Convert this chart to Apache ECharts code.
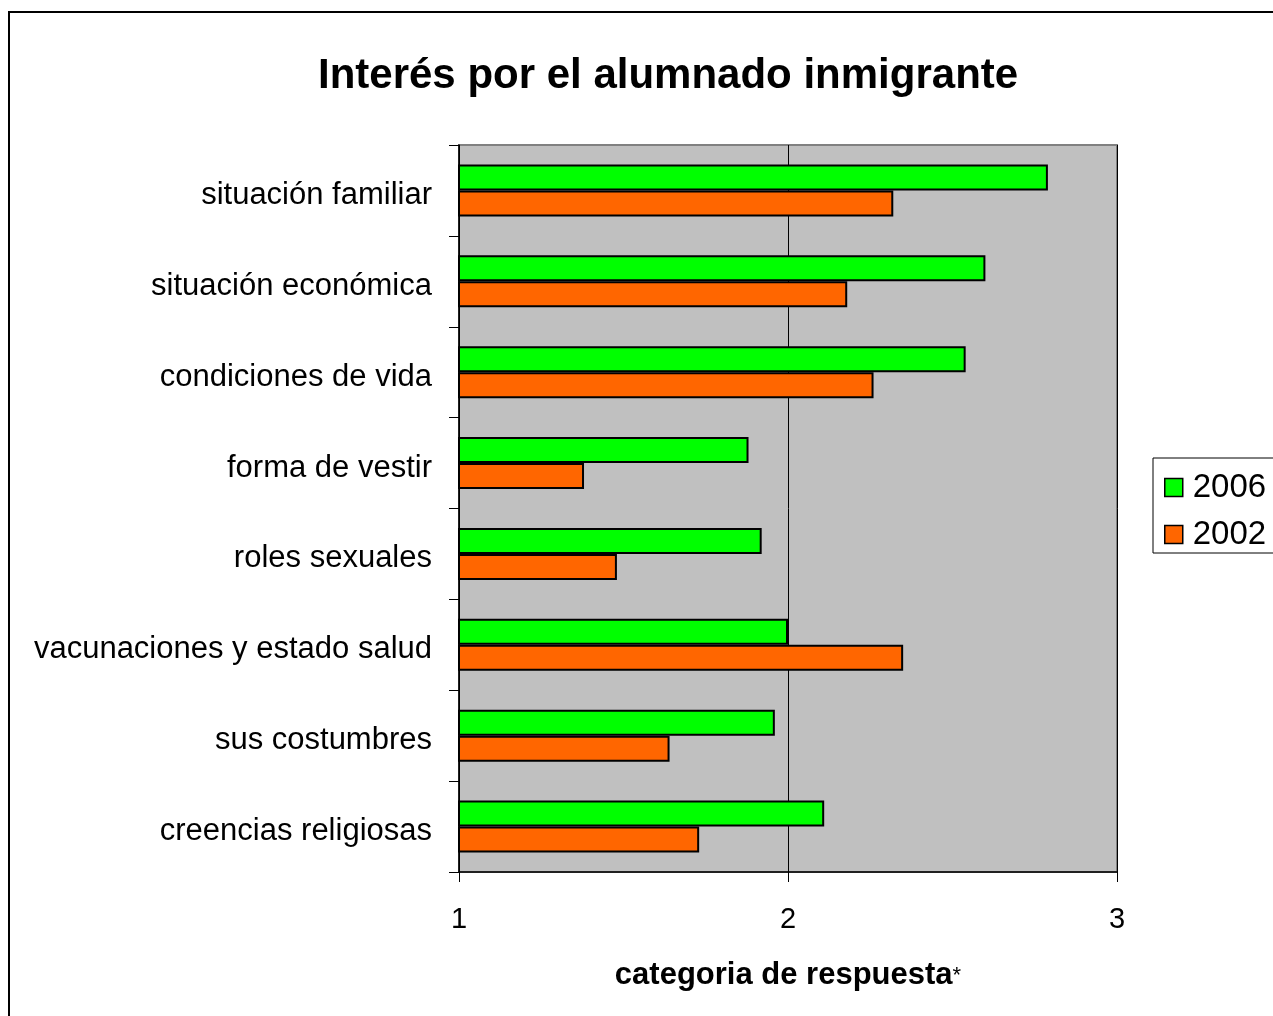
<!DOCTYPE html>
<html>
<head>
<meta charset="utf-8">
<script src="https://cdn.jsdelivr.net/npm/echarts@6/dist/echarts.min.js"></script>
<style>html,body{margin:0;padding:0;background:#fff;}#c{width:1273px;height:1016px;}</style>
</head>
<body>
<div id="c"></div>
<script>
const categories = ['situación familiar','situación económica','condiciones de vida','forma de vestir','roles sexuales','vacunaciones y estado salud','sus costumbres','creencias religiosas'];
const values2006 = [2.79, 2.60, 2.54, 1.88, 1.92, 2.00, 1.96, 2.11];
const values2002 = [2.32, 2.18, 2.26, 1.38, 1.48, 2.35, 1.64, 1.73];
const xTicks = [1, 2, 3];

const chart = echarts.init(document.getElementById('c'));
const font = 'Liberation Sans, Arial, sans-serif';
chart.setOption({
  animation: false,
  backgroundColor: '#fff',
  textStyle: { fontFamily: font },
  title: {
    text: 'Interés por el alumnado inmigrante',
    left: 313, top: 50,
    textStyle: { fontFamily: font, fontSize: 42, fontWeight: 'bold', color: '#000' }
  },
  graphic: [{
    type: 'rect', shape: { x: 9, y: 12, width: 1400, height: 1200 },
    style: { fill: 'none', stroke: '#000', lineWidth: 2 }, z: 100
  }],
  legend: {
    orient: 'vertical', left: 1153, top: 458,
    borderColor: '#000', borderWidth: 1,
    padding: [13, 20, 2, 11],
    itemWidth: 18, itemHeight: 18, itemGap: 14,
    textStyle: { fontFamily: font, fontSize: 33, color: '#000', padding: [0, 0, 0, 5] },
    data: [
      { name: '2006', icon: 'rect', itemStyle: { color: '#00ff00', borderColor: '#000', borderWidth: 1.5 } },
      { name: '2002', icon: 'rect', itemStyle: { color: '#ff6600', borderColor: '#000', borderWidth: 1.5 } }
    ]
  },
  grid: {
    left: 459, right: 156, top: 145, bottom: 144,
    show: true, backgroundColor: '#c0c0c0', borderColor: '#808080', borderWidth: 2
  },
  xAxis: {
    type: 'value', min: xTicks[0], max: xTicks[xTicks.length - 1], interval: 1,
    axisLine: { show: true, lineStyle: { color: '#000', width: 1.5 } },
    axisTick: { show: true, length: 10, lineStyle: { color: '#000' } },
    axisLabel: { margin: 33, fontSize: 29, color: '#000', fontFamily: font },
    splitLine: { show: true, lineStyle: { color: '#000', width: 1 } },
    name: '{a|categoria de respuesta}{b|*}',
    nameLocation: 'middle', nameGap: 88,
    nameTextStyle: {
      rich: {
        a: { fontFamily: font, fontSize: 31, fontWeight: 'bold', color: '#000' },
        b: { fontFamily: font, fontSize: 22, color: '#000', verticalAlign: 'middle' }
      }
    }
  },
  yAxis: {
    type: 'category', data: categories, inverse: true,
    axisLine: { show: true, lineStyle: { color: '#000', width: 1.5 } },
    axisTick: { show: true, length: 10, lineStyle: { color: '#000' } },
    axisLabel: {
      margin: 27, color: '#000', fontFamily: font,
      formatter: function (v) { return '{a|' + v + '}'; },
      rich: { a: { fontSize: 31, fontFamily: font, color: '#000', padding: [10, 0, 0, 0] } }
    },
    splitLine: { show: false }
  },
  series: [
    { name: '2006', type: 'bar', data: values2006, barWidth: 26, barGap: 0,
      itemStyle: { color: '#00ff00', borderColor: '#000', borderWidth: 2 } },
    { name: '2002', type: 'bar', data: values2002, barWidth: 26, barGap: 0,
      itemStyle: { color: '#ff6600', borderColor: '#000', borderWidth: 2 } }
  ]
});
</script>
</body>
</html>
